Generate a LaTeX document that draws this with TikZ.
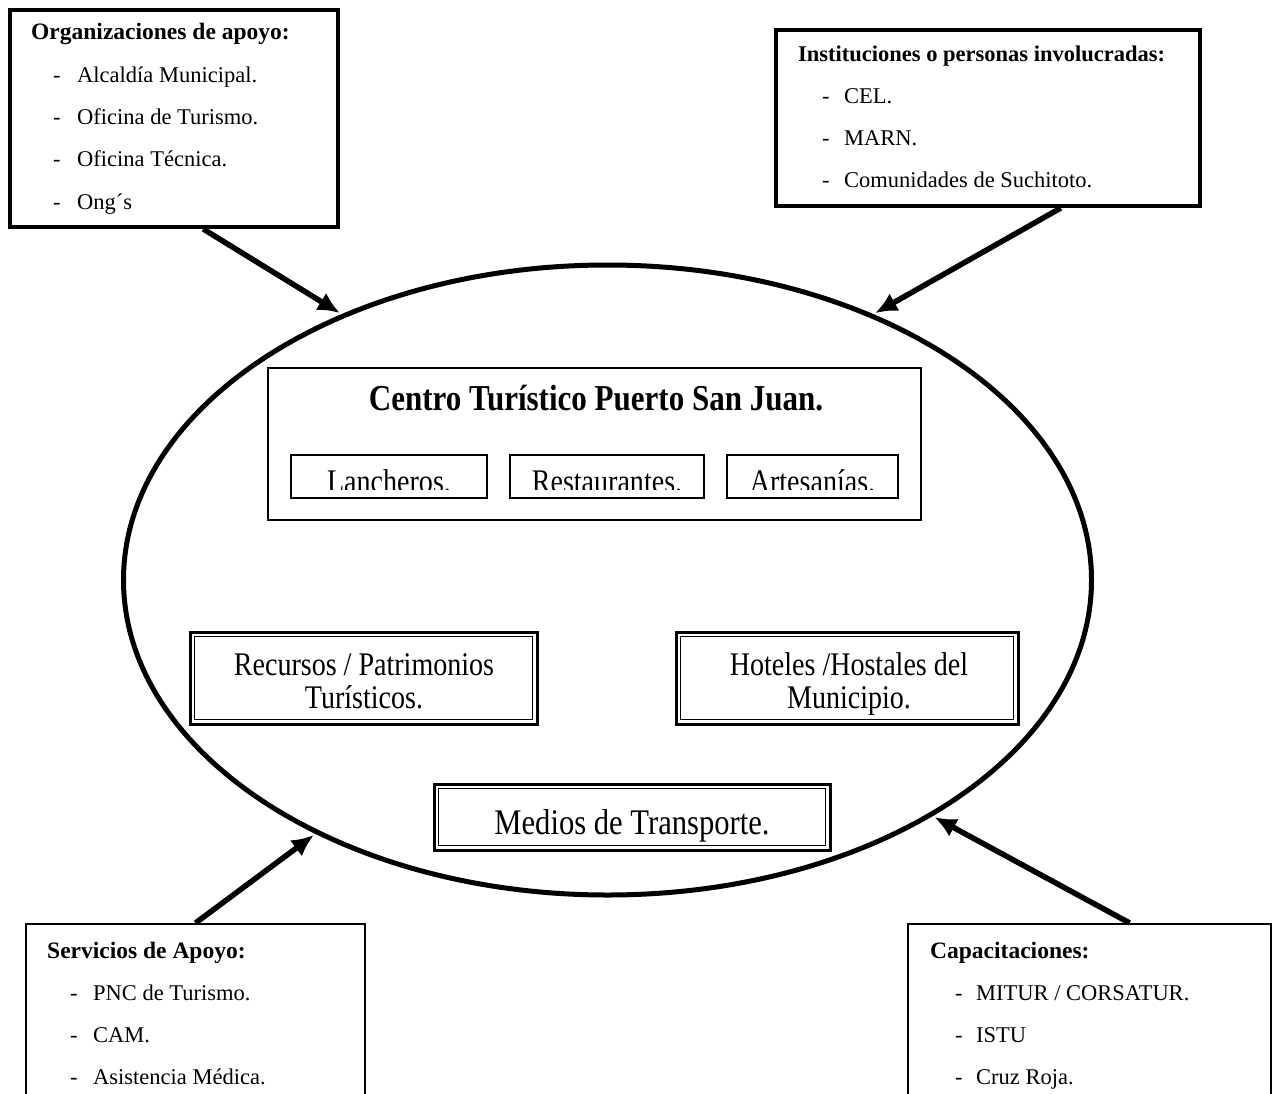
\documentclass[tikz,border=0pt]{standalone}
\usepackage{fontspec}
\setmainfont{Liberation Serif}
\newfontfamily\narrowserif[FakeStretch=0.85]{Liberation Serif}
\usetikzlibrary{shapes.geometric,arrows.meta,calc}

\begin{document}
\begin{tikzpicture}[x=1pt,y=-1pt,
  heavybox/.style={draw, line width=4pt, inner sep=0pt},
  lightbox/.style={draw, line width=2pt, inner sep=0pt},
  thinbox/.style={draw, line width=1.6pt, inner sep=0pt},
  dblbox/.style={draw, line width=3pt, inner sep=0pt},
  innerline/.style={line width=1.5pt},
  listhead/.style={anchor=base west, inner sep=0pt, font=\fontsize{23.5}{28}\selectfont\bfseries},
  listitem/.style={anchor=base west, inner sep=0pt, font=\fontsize{22.5}{27}\selectfont},
  flow/.style={line width=5.5pt, shorten >=2pt, -{Latex[length=22pt,width=20pt]}},
  ring/.style={ellipse, draw, line width=5pt, inner sep=0pt},
  midlabel/.style={inner sep=0pt, anchor=base, font=\narrowserif\fontsize{33}{33}\selectfont},
  biglabel/.style={inner sep=0pt, anchor=base, font=\narrowserif\fontsize{36}{36}\selectfont},
]
\clip (0,0) rectangle (1276,1094);
\fill[white] (0,0) rectangle (1276,1094);

% central ellipse
\node[ring, minimum width=968, minimum height=630] (ell) at (607.5,580) {};

% top-left list
\node[heavybox, minimum width=328, minimum height=217] (org) at (174,118.5) {};
\node[listhead] (orgh) at (31,40) {Organizaciones de apoyo:};
\foreach \t [count=\i] in {Alcaldía Municipal., Oficina de Turismo., Oficina Técnica., Ong´s}
  {\node[listitem] (orgd\i) at (53,41+42*\i) {-};
   \node[listitem] (orgi\i) at (77,41+42*\i) {\t};}

% top-right list
\node[heavybox, minimum width=424, minimum height=176] (inst) at (988,118) {};
\node[listhead, font=\fontsize{22.5}{27}\selectfont\bfseries] (insth) at (798,62) {Instituciones o personas involucradas:};
\foreach \t [count=\i] in {CEL., MARN., Comunidades de Suchitoto.}
  {\node[listitem] (instd\i) at (822,62+42*\i) {-};
   \node[listitem] (insti\i) at (844,62+42*\i) {\t};}

% bottom-left list
\node[lightbox, minimum width=339, minimum height=200] (serv) at (195.5,1024) {};
\node[listhead] (servh) at (47,958) {Servicios de Apoyo:};
\foreach \t [count=\i] in {PNC de Turismo., CAM., Asistencia Médica.}
  {\node[listitem] (servd\i) at (70,958+42*\i) {-};
   \node[listitem] (servi\i) at (93,958+42*\i) {\t};}

% bottom-right list
\node[lightbox, minimum width=363, minimum height=200] (capbox) at (1089.5,1024) {};
\node[listhead] (caph) at (930,958) {Capacitaciones:};
\foreach \t [count=\i] in {MITUR / CORSATUR., ISTU, Cruz Roja.}
  {\node[listitem] (capd\i) at (955,958+42*\i) {-};
   \node[listitem] (capi\i) at (976,958+42*\i) {\t};}

% tourist centre block
\node[lightbox, minimum width=653, minimum height=152] (centro) at (594.5,444) {};
\node[biglabel, font=\narrowserif\bfseries\fontsize{36.5}{36.5}\selectfont] (centroh) at (596,410) {Centro Turístico Puerto San Juan.};
\node[thinbox, minimum width=196, minimum height=43] (lanch) at (389,476.5) {};
\node[thinbox, minimum width=194, minimum height=43] (rest) at (607,476.5) {};
\node[thinbox, minimum width=171, minimum height=43] (arte) at (812.5,476.5) {};
\begin{scope}
  \clip (270,440) rectangle (920,489);
  \node[midlabel] (lancht) at (389,492) {Lancheros.};
  \node[midlabel] (restt) at (607,492) {Restaurantes.};
  \node[midlabel] (artet) at (812.5,492) {Artesanías.};
\end{scope}

% double-framed boxes
\node[dblbox, minimum width=347, minimum height=92] (recu) at (363.5,678) {};
\draw[innerline] ([shift={(6,6)}]recu.north west) rectangle ([shift={(-6,-6)}]recu.south east);
\node[midlabel] (recu1) at (364,675) {Recursos / Patrimonios};
\node[midlabel] (recu2) at (364,708) {Turísticos.};

\node[dblbox, minimum width=342, minimum height=92] (hote) at (847,678) {};
\draw[innerline] ([shift={(6,6)}]hote.north west) rectangle ([shift={(-6,-6)}]hote.south east);
\begin{scope}
  \clip ([shift={(7,7)}]hote.north west) rectangle ([shift={(-7,-7)}]hote.south east);
  \node[midlabel] (hote1) at (849,675) {Hoteles /Hostales del};
  \node[midlabel] (hote2) at (849,708) {Municipio.};
\end{scope}

\node[dblbox, minimum width=396, minimum height=66] (medi) at (632,817) {};
\draw[innerline] ([shift={(6,6)}]medi.north west) rectangle ([shift={(-6,-6)}]medi.south east);
\node[biglabel] (medit) at (632,834) {Medios de Transporte.};

% connectors into the ellipse
\draw[flow] ($(org.south west)!0.588!(org.south east)$) -- (ell.135);
\draw[flow] ($(inst.south west)!0.67!(inst.south east)$) -- (ell.45);
\draw[flow] (serv.north) -- (ell.221);
\draw[flow] ($(capbox.north west)!0.61!(capbox.north east)$) -- (ell.-36);
\end{tikzpicture}
\end{document}
